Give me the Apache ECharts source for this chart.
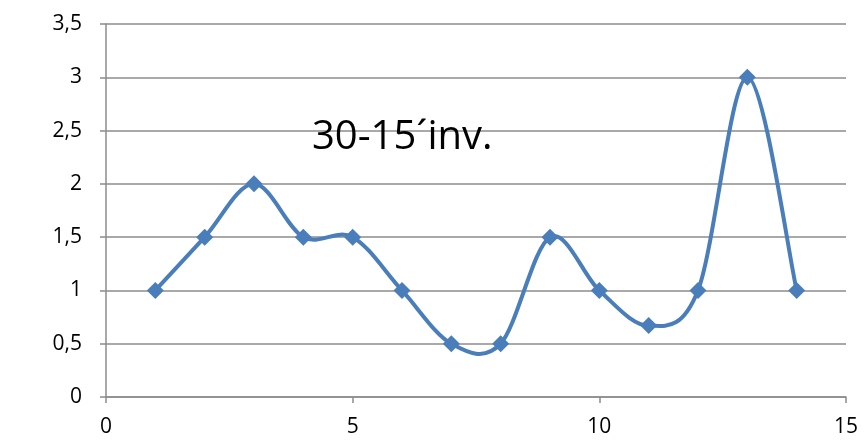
<!DOCTYPE html>
<html>
<head>
<meta charset="utf-8">
<script src="https://cdn.jsdelivr.net/npm/echarts@6/dist/echarts.min.js"></script>
<style>html,body{margin:0;padding:0;background:#fff}#c{width:866px;height:447px}</style>
</head>
<body>
<div id="c"></div>
<script>
const xValues = [1,2,3,4,5,6,7,8,9,10,11,12,13,14];
const yValues = [1,1.5,2,1.5,1.5,1,0.5,0.5,1.5,1,0.67,1,3,1];
const titleText = "30-15´inv.";
const fontFam = "Open Sans, Lato, sans-serif";
const lineColor = '#4a7ebb';
const pts = xValues.map((x,i)=>[x,yValues[i]]);
const chart = echarts.init(document.getElementById('c'));
function renderSeg(params, api){
  const i = params.dataIndex;
  const n = pts.length;
  if (i >= n-1) return null;
  const p0 = api.coord(pts[Math.max(i-1,0)]);
  const p1 = api.coord(pts[i]);
  const p2 = api.coord(pts[i+1]);
  const p3 = api.coord(pts[Math.min(i+2,n-1)]);
  return {
    type:'bezierCurve',
    shape:{x1:p1[0],y1:p1[1],x2:p2[0],y2:p2[1],
      cpx1:p1[0]+(p2[0]-p0[0])/6, cpy1:p1[1]+(p2[1]-p0[1])/6,
      cpx2:p2[0]-(p3[0]-p1[0])/6, cpy2:p2[1]-(p3[1]-p1[1])/6},
    style:{stroke:lineColor,lineWidth:4,fill:null,lineCap:'round'}
  };
}
chart.setOption({
  animation:false,
  title:{text:titleText,left:307,top:113,textStyle:{fontFamily:fontFam,fontSize:40,fontWeight:'normal',color:'#000'}},
  grid:{left:106,right:20,top:24,bottom:50},
  xAxis:{type:'value',min:0,max:15,interval:5,
    axisLine:{lineStyle:{color:'#8c8c8c',width:1.5}},
    axisTick:{show:true,length:6,lineStyle:{color:'#8c8c8c',width:1.5}},
    splitLine:{show:false},
    axisLabel:{fontFamily:fontFam,fontSize:21,color:'#000',margin:20}},
  yAxis:{type:'value',min:0,max:3.5,interval:0.5,
    axisLine:{show:true,lineStyle:{color:'#8c8c8c',width:1.5}},
    axisTick:{show:true,length:6,lineStyle:{color:'#8c8c8c',width:1.5}},
    splitLine:{show:true,lineStyle:{color:'#8c8c8c',width:1.5}},
    axisLabel:{fontFamily:fontFam,fontSize:21,color:'#000',margin:24,
      formatter:v=>String(v).replace('.',',')}},
  series:[
    {type:'custom',data:pts,renderItem:renderSeg,clip:false,z:2},
    {type:'scatter',data:pts,symbol:'diamond',symbolSize:17,
      itemStyle:{color:lineColor,opacity:1},z:3}
  ]
});
</script>
</body>
</html>
